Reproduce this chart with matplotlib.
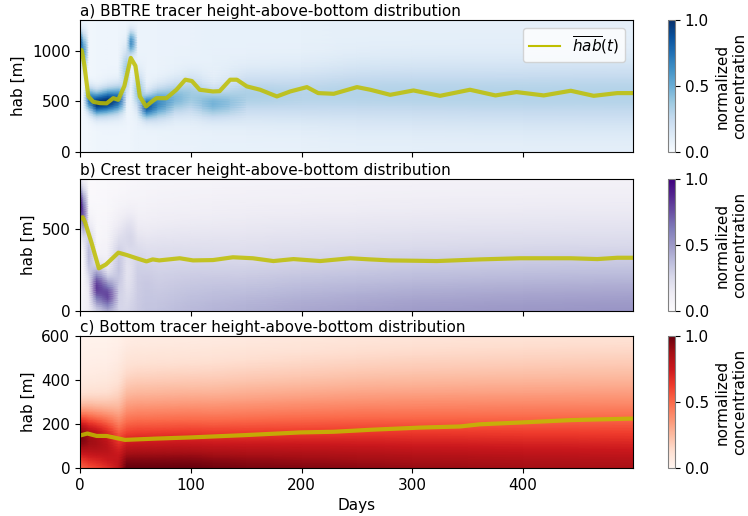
import numpy as np
import matplotlib
matplotlib.use('Agg')
import matplotlib.pyplot as plt
from matplotlib.lines import Line2D

# mean height above bottom of each tracer (days, hab in m)
days_a = [0, 1.5, 4, 7.5, 12, 18, 24, 30, 34.5, 40, 45.8, 50, 54, 59.6, 64, 69, 78, 87, 95, 101, 108, 120, 126, 135.5,
          141.6, 150.6, 162.6, 177.7, 189.7, 204.8, 215, 229, 250, 262, 280, 301, 325, 352, 375, 394, 418.6, 443,
          463.7, 485, 499]
hab_a = [1000, 1005, 850, 548, 495, 482, 480, 531, 515, 650, 928, 850, 548, 449, 490, 531, 531, 614, 713, 700,
         614, 597, 600, 713, 713, 647, 614, 548, 597, 640, 581, 574, 640, 614, 564, 607, 554, 614, 558, 591, 558,
         604, 554, 581, 581]

days_b = [0, 2.4, 4.5, 10.5, 17, 23.5, 34.6, 42, 51, 60, 65.6, 71.5, 90, 102, 120, 138, 156, 174.6, 192.7, 216.8,
          244, 262, 280, 322, 361, 397, 443, 467, 485, 499]
hab_b = [560, 569, 540, 411, 259, 283, 354, 340, 320, 301, 313, 307, 320, 307, 309, 326, 320, 303, 315, 303,
         320, 313, 307, 303, 313, 320, 320, 315, 323, 323]

days_c = [0, 1.5, 6.6, 15, 24, 40.6, 69, 99, 150, 199, 229, 262, 307, 343, 361, 397, 443, 499]
hab_c = [148, 150, 157, 146, 146, 128, 134, 139, 150, 162, 165, 174, 184, 189, 199, 207, 218, 225]

# concentration field: days at which the vertical profiles are given
field_days = [0, 3, 8, 15, 25, 35, 42, 46, 52, 60, 70, 85, 100, 120, 150, 200, 250, 300, 400, 500]

# a) BBTRE tracer: gaussian plume (centre, width, peak) on a weak background
plume_a_z = [1080, 1000, 520, 480, 500, 520, 800, 1080, 600, 450, 480, 530, 560, 480, 560, 560, 580, 580, 570, 570]
plume_a_w = [80, 120, 80, 80, 85, 90, 150, 80, 120, 80, 100, 110, 130, 100, 150, 170, 190, 200, 210, 220]
plume_a_pk = [0.85, 0.6, 0.7, 0.95, 0.95, 0.75, 0.35, 0.6, 0.35, 0.8, 0.6, 0.4, 0.3, 0.4, 0.25, 0.22, 0.22,
              0.22, 0.22, 0.22]
backg_a = [0.0, 0.02, 0.03, 0.04, 0.05, 0.05, 0.05, 0.05, 0.06, 0.06, 0.06, 0.07, 0.07, 0.08, 0.08, 0.08, 0.09,
           0.09, 0.09, 0.09]

# b) Crest tracer: bottom-trapped part plus a released plume
bot_b_amp = [0.0, 0.05, 0.1, 0.15, 0.2, 0.22, 0.24, 0.26, 0.28, 0.3, 0.32, 0.34, 0.36, 0.38, 0.4, 0.43, 0.45,
             0.47, 0.49, 0.5]
bot_b_h = [200, 200, 250, 300, 350, 400, 420, 440, 450, 460, 470, 480, 480, 480, 490, 490, 490, 490, 490, 490]
plume_b_z = [640, 600, 350, 150, 100, 300, 450, 450, 300, 250, 300, 300, 300, 300, 300, 300, 300, 300, 300, 300]
plume_b_w = [80, 100, 120, 80, 70, 150, 100, 100, 150, 150, 150, 150, 150, 150, 150, 150, 150, 150, 150, 150]
plume_b_pk = [0.95, 0.7, 0.35, 0.7, 0.6, 0.2, 0.15, 0.15, 0.1, 0.08, 0.05, 0.04, 0.03, 0.02, 0.0, 0.0, 0.0,
              0.0, 0.0, 0.0]

# c) Bottom tracer
bot_c_amp = [0.4, 0.4, 0.42, 0.45, 0.47, 0.7, 1.0, 1.0, 1.0, 1.0, 1.0, 1.0, 1.0, 0.98, 0.96, 0.94, 0.92, 0.9,
             0.87, 0.85]
bot_c_h = [260, 260, 260, 260, 260, 260, 270, 275, 280, 280, 282, 284, 286, 290, 300, 315, 330, 340, 355, 365]
plume_c_z = [150, 145, 140, 135, 120, 100, 100, 100, 100, 100, 100, 100, 100, 100, 100, 100, 100, 100, 100, 100]
plume_c_w = [75, 80, 85, 85, 95, 100, 100, 100, 100, 100, 100, 100, 100, 100, 100, 100, 100, 100, 100, 100]
plume_c_pk = [0.7, 0.68, 0.6, 0.55, 0.45, 0.15, 0.0, 0.0, 0.0, 0.0, 0.0, 0.0, 0.0, 0.0, 0.0, 0.0, 0.0, 0.0, 0.0,
              0.0]

t = np.array(field_days, dtype=float)


def gauss(z, z0, w, pk):
    z0, w, pk = np.array(z0)[None, :], np.array(w)[None, :], np.array(pk)[None, :]
    return pk * np.exp(-(z[:, None] - z0) ** 2 / (2 * w ** 2))


def bottom(z, amp, h, p=1.4):
    amp, h = np.array(amp)[None, :], np.array(h)[None, :]
    return amp * np.exp(-(z[:, None] / h) ** p)


z_a = np.linspace(0, 1300, 80)
conc_a = np.clip(gauss(z_a, plume_a_z, plume_a_w, plume_a_pk) + np.array(backg_a)[None, :], 0, 1)
z_b = np.linspace(0, 800, 60)
conc_b = np.clip(bottom(z_b, bot_b_amp, bot_b_h) + gauss(z_b, plume_b_z, plume_b_w, plume_b_pk) + 0.02, 0, 1)
z_c = np.linspace(0, 600, 50)
conc_c = np.clip(bottom(z_c, bot_c_amp, bot_c_h) + gauss(z_c, plume_c_z, plume_c_w, plume_c_pk), 0, 1)

plt.rcParams['font.size'] = 11
fig = plt.figure(figsize=(7.48, 5.16), dpi=100)

panels = [
    ('a) BBTRE tracer height-above-bottom distribution', z_a, conc_a, 'Blues', days_a, hab_a, 1300,
     [0, 500, 1000], 0.7054),
    ('b) Crest tracer height-above-bottom distribution', z_b, conc_b, 'Purples', days_b, hab_b, 800,
     [0, 500], 0.3973),
    ('c) Bottom tracer height-above-bottom distribution', z_c, conc_c, 'Reds', days_c, hab_c, 600,
     [0, 200, 400, 600], 0.093),
]

for i, (title, z, conc, cmap, dd, hh, ytop, yt, y0) in enumerate(panels):
    ax = fig.add_axes([0.107, y0, 0.739, 0.2555])
    cax = fig.add_axes([0.893, y0, 0.0094, 0.2555])
    pcm = ax.pcolormesh(t, z, conc, cmap=cmap, vmin=0, vmax=1, shading='gouraud', rasterized=True)
    ax.plot(dd, hh, color='y', lw=3, alpha=0.85)
    ax.set_xlim(0, 499)
    ax.set_ylim(0, ytop)
    ax.set_yticks(yt)
    ax.set_xticks([0, 100, 200, 300, 400])
    ax.set_ylabel('hab [m]')
    ax.set_title(title, loc='left', fontsize=11, pad=3)
    if i < 2:
        ax.set_xticklabels([])
    else:
        ax.set_xlabel('Days')
    if i == 0:
        h = Line2D([], [], color='y', lw=1.5)
        ax.legend([h], [r'$\overline{hab}(t)$'], loc='upper right')
    cb = fig.colorbar(pcm, cax=cax, ticks=[0, 0.5, 1])
    cb.set_label('normalized\nconcentration')
    cb.outline.set_edgecolor('0.5')

plt.savefig('out.png', dpi=100)
